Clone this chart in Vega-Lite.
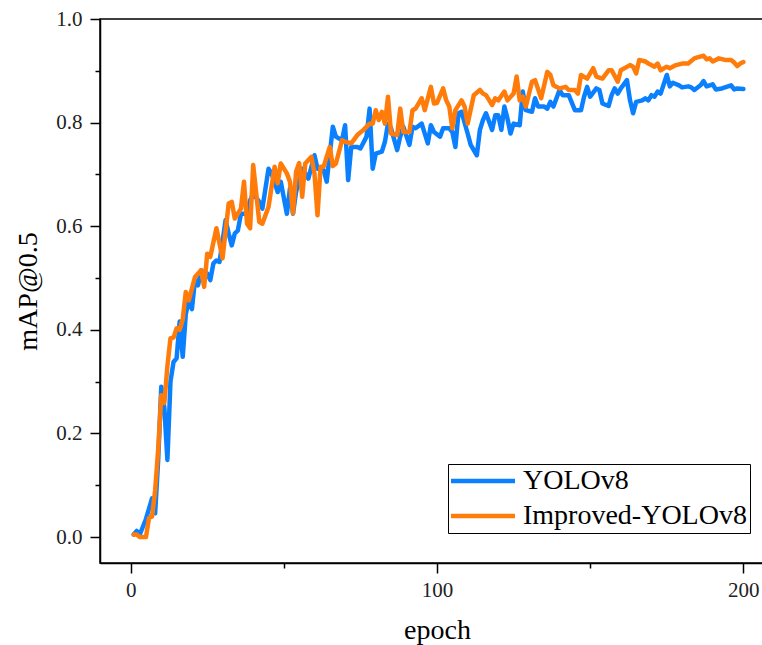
{
  "$schema": "https://vega.github.io/schema/vega-lite/v6.json",
  "autosize": "none",
  "padding": {"left": 100, "top": 19, "right": 0, "bottom": 82},
  "width": 674,
  "height": 544,
  "background": "white",
  "config": {
    "view": {"stroke": "black", "strokeWidth": 1.5},
    "font": "Liberation Serif"
  },
  "datasets": {
    "yolo": [
      [1,0.005],[2,0.012],[3,0.005],[4,0.02],[5,0.035],[6,0.055],[7,0.075],[8,0.046],[9,0.15],[10,0.29],[11,0.25],[12,0.149],[13,0.3],[14,0.338],[15,0.345],[16,0.416],[17,0.348],[18,0.43],[19,0.457],[20,0.44],[21,0.496],[22,0.486],[23,0.515],[25,0.509],[26,0.496],[27,0.528],[28,0.534],[29,0.531],[31,0.612],[32,0.586],[33,0.563],[34,0.586],[35,0.592],[36,0.624],[38,0.624],[39,0.65],[40,0.663],[42,0.647],[43,0.634],[45,0.711],[46,0.702],[48,0.666],[49,0.686],[51,0.624],[52,0.673],[53,0.624],[54,0.666],[56,0.711],[57,0.702],[58,0.692],[60,0.737],[61,0.711],[63,0.708],[64,0.686],[66,0.792],[67,0.773],[69,0.766],[70,0.795],[71,0.689],[72,0.753],[74,0.753],[75,0.75],[77,0.773],[78,0.827],[79,0.711],[80,0.74],[82,0.744],[83,0.763],[84,0.798],[85,0.789],[87,0.747],[88,0.773],[89,0.792],[91,0.757],[92,0.792],[93,0.789],[95,0.798],[97,0.76],[98,0.795],[99,0.782],[101,0.773],[102,0.789],[104,0.789],[105,0.782],[106,0.753],[107,0.818],[108,0.821],[110,0.779],[111,0.757],[113,0.737],[114,0.786],[115,0.805],[116,0.818],[118,0.786],[119,0.814],[120,0.814],[121,0.786],[122,0.831],[123,0.808],[124,0.779],[125,0.798],[127,0.795],[128,0.86],[129,0.824],[131,0.821],[132,0.847],[133,0.831],[135,0.831],[136,0.827],[137,0.84],[138,0.831],[140,0.863],[141,0.853],[143,0.853],[145,0.824],[147,0.824],[148,0.85],[149,0.869],[150,0.85],[152,0.866],[153,0.863],[154,0.837],[156,0.832],[157,0.853],[158,0.866],[159,0.856],[160,0.866],[162,0.882],[163,0.843],[164,0.818],[165,0.84],[167,0.843],[168,0.847],[169,0.843],[170,0.853],[171,0.85],[172,0.86],[173,0.856],[175,0.892],[176,0.87],[177,0.877],[179,0.872],[180,0.868],[182,0.87],[183,0.868],[184,0.863],[186,0.872],[187,0.88],[188,0.87],[190,0.874],[191,0.864],[193,0.866],[194,0.868],[196,0.872],[197,0.864],[198,0.866],[200,0.865]
    ],
    "improved": [
      [1,0.005],[2,0.005],[3,0.0],[4,0.0],[5,0.0],[6,0.037],[7,0.04],[8,0.09],[9,0.17],[10,0.274],[11,0.259],[12,0.33],[13,0.384],[14,0.385],[15,0.403],[16,0.4],[17,0.42],[18,0.473],[19,0.457],[21,0.502],[23,0.515],[24,0.483],[25,0.547],[26,0.541],[28,0.596],[30,0.538],[32,0.644],[33,0.647],[34,0.615],[36,0.634],[37,0.686],[38,0.605],[39,0.596],[40,0.718],[42,0.608],[43,0.605],[45,0.637],[47,0.715],[48,0.683],[49,0.721],[51,0.702],[52,0.686],[53,0.625],[54,0.705],[55,0.722],[56,0.657],[57,0.721],[59,0.734],[60,0.702],[61,0.621],[62,0.715],[63,0.715],[65,0.753],[66,0.716],[67,0.721],[69,0.766],[70,0.763],[72,0.76],[74,0.776],[76,0.786],[78,0.798],[79,0.798],[80,0.824],[81,0.805],[82,0.821],[83,0.798],[84,0.85],[85,0.779],[87,0.776],[88,0.827],[89,0.782],[91,0.782],[92,0.824],[93,0.827],[95,0.847],[96,0.824],[98,0.869],[99,0.837],[100,0.838],[102,0.866],[103,0.843],[104,0.831],[105,0.789],[106,0.824],[108,0.843],[109,0.831],[110,0.798],[112,0.853],[114,0.863],[115,0.856],[116,0.853],[118,0.834],[119,0.847],[120,0.843],[122,0.86],[123,0.843],[125,0.856],[126,0.889],[127,0.843],[128,0.85],[129,0.831],[131,0.879],[132,0.882],[134,0.847],[136,0.898],[137,0.892],[138,0.872],[140,0.866],[142,0.869],[143,0.863],[145,0.863],[146,0.856],[147,0.892],[149,0.885],[151,0.905],[152,0.889],[154,0.885],[156,0.901],[157,0.901],[159,0.879],[160,0.901],[163,0.911],[164,0.908],[165,0.895],[166,0.921],[168,0.918],[169,0.914],[171,0.908],[172,0.914],[173,0.901],[175,0.908],[176,0.905],[178,0.911],[180,0.914],[182,0.914],[184,0.924],[185,0.926],[187,0.929],[188,0.922],[189,0.924],[190,0.918],[192,0.924],[194,0.921],[196,0.921],[197,0.916],[198,0.909],[199,0.914],[200,0.917]
    ]
  },
  "layer": [
    {
      "data": {"name": "yolo"},
      "transform": [
        {"calculate": "datum[0]", "as": "epoch"},
        {"calculate": "datum[1]", "as": "map"},
        {"calculate": "'YOLOv8'", "as": "model"}
      ],
      "mark": {"type": "line", "strokeWidth": 4.5, "strokeCap": "round", "strokeJoin": "round"},
      "encoding": {
        "x": {"field": "epoch", "type": "quantitative"},
        "y": {"field": "map", "type": "quantitative"},
        "color": {"field": "model", "type": "nominal"}
      }
    },
    {
      "data": {"name": "improved"},
      "transform": [
        {"calculate": "datum[0]", "as": "epoch"},
        {"calculate": "datum[1]", "as": "map"},
        {"calculate": "'Improved-YOLOv8'", "as": "model"}
      ],
      "mark": {"type": "line", "strokeWidth": 4.5, "strokeCap": "round", "strokeJoin": "round"},
      "encoding": {
        "x": {
          "field": "epoch", "type": "quantitative",
          "scale": {"domain": [-10, 210], "nice": false, "zero": false},
          "axis": {
            "title": "epoch",
            "values": [0, 50, 100, 150, 200],
            "labelExpr": "datum.value % 100 == 0 ? datum.label : ''",
            "grid": false,
            "domainColor": "black", "domainWidth": 1.5,
            "tickColor": "black", "tickWidth": 1.5,
            "tickSize": {"condition": {"test": "datum.value % 100 == 0", "value": 10}, "value": 5},
            "labelFont": "Liberation Serif", "labelFontSize": 21, "labelColor": "#222",
            "labelPadding": 6,
            "titleFont": "Liberation Serif", "titleFontSize": 28, "titleFontWeight": "normal", "titleColor": "black",
            "titlePadding": 16
          }
        },
        "y": {
          "field": "map", "type": "quantitative",
          "scale": {"domain": [-0.05, 1.0], "nice": false, "zero": false},
          "axis": {
            "title": "mAP@0.5",
            "values": [0, 0.1, 0.2, 0.3, 0.4, 0.5, 0.6, 0.7, 0.8, 0.9, 1.0],
            "labelExpr": "round(datum.value * 10) % 2 == 0 ? format(datum.value, '.1f') : ''",
            "grid": false,
            "domainColor": "black", "domainWidth": 1.5,
            "tickColor": "black", "tickWidth": 1.5,
            "tickSize": {"condition": {"test": "round(datum.value * 10) % 2 == 0", "value": 10}, "value": 5},
            "labelFont": "Liberation Serif", "labelFontSize": 21, "labelColor": "#222",
            "labelPadding": 8,
            "titleFont": "Liberation Serif", "titleFontSize": 28, "titleFontWeight": "normal", "titleColor": "black",
            "titlePadding": 13
          }
        },
        "color": {
          "field": "model", "type": "nominal",
          "scale": {"domain": ["YOLOv8", "Improved-YOLOv8"], "range": ["#0a80ff", "#ff7c0a"]},
          "legend": {
            "title": null,
            "orient": "none",
            "legendX": 348,
            "legendY": 445,
            "padding": 3,
            "strokeColor": "black",
            "fillColor": "white",
            "cornerRadius": 0,
            "symbolType": "M-1.75,0L6.25,0",
            "symbolSize": 256,
            "symbolStrokeWidth": 4.5,
            "labelFont": "Liberation Serif",
            "labelFontSize": 28,
            "labelColor": "black",
            "labelOffset": 44,
            "rowPadding": 7,
            "labelLimit": 400
          }
        }
      }
    }
  ]
}
